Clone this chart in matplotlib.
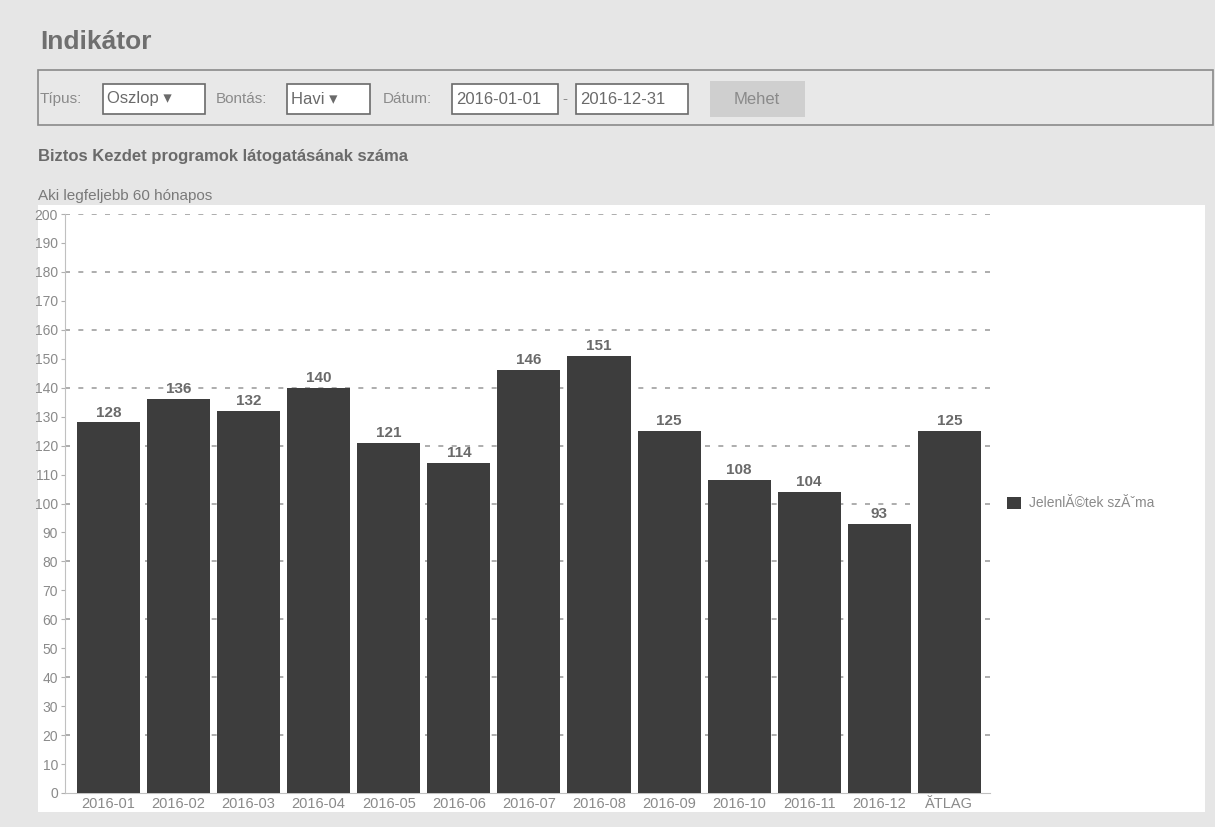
import matplotlib.pyplot as plt
import matplotlib.patches as mpatches

months = ["2016-01", "2016-02", "2016-03", "2016-04", "2016-05", "2016-06",
          "2016-07", "2016-08", "2016-09", "2016-10", "2016-11", "2016-12", "ĂTLAG"]
visits = [128, 136, 132, 140, 121, 114, 146, 151, 125, 108, 104, 93, 125]
yticks = list(range(0, 201, 10))
series_name = "JelenlĂ©tek szĂˇma"

plt.rcParams['font.family'] = ['Liberation Sans', 'DejaVu Sans']

W, H = 1215, 827
fig = plt.figure(figsize=(W / 100, H / 100), dpi=100)
fig.patch.set_facecolor("#e6e6e6")

def px(x, y):
    # pixel coords (top-left origin) -> figure fraction
    return x / W, 1 - y / H

# white chart panel (background axes)
bg = fig.add_axes([38 / W, 1 - 812 / H, (1205 - 38) / W, (812 - 205) / H], zorder=0)
bg.set_facecolor("white")
bg.set_xticks([])
bg.set_yticks([])
for s in bg.spines.values():
    s.set_visible(False)

# header texts
fig.text(*px(40, 42), "Indikátor", fontsize=19, color="#6f6f6f", va="center", weight="bold")
fig.text(*px(38, 156), "Biztos Kezdet programok látogatásának száma", fontsize=12,
         color="#6a6a6a", weight="bold", va="center")
fig.text(*px(38, 196), "Aki legfeljebb 60 hónapos", fontsize=11, color="#7a7a7a", va="center")

# filter bar
fx, fy = px(38, 125)
fig.patches.append(mpatches.Rectangle((fx, fy), (1213 - 38) / W, (125 - 70) / H,
                                      transform=fig.transFigure, facecolor="#e8e8e8",
                                      edgecolor="#8a8a8a", lw=1.2, zorder=1))
items = [("text", 40, "Típus:"), ("box", 103, "Oszlop ▾", 205),
         ("text", 216, "Bontás:"), ("box", 287, "Havi ▾", 370),
         ("text", 383, "Dátum:"), ("box", 452, "2016-01-01", 558),
         ("text", 562, "-"), ("box", 576, "2016-12-31", 688)]
for it in items:
    if it[0] == "text":
        fig.text(*px(it[1], 99), it[2], fontsize=11, color="#8a8a8a", va="center")
    else:
        bx, by = px(it[1], 114)
        fig.patches.append(mpatches.Rectangle((bx, by), (it[3] - it[1]) / W, 30 / H,
                                              transform=fig.transFigure, facecolor="white",
                                              edgecolor="#6a6a6a", lw=1.2, zorder=2))
        fig.text(*px(it[1] + 4, 99), it[2], fontsize=12, color="#6a6a6a", va="center", zorder=3)
bx, by = px(710, 117)
fig.patches.append(mpatches.Rectangle((bx, by), 95 / W, 36 / H, transform=fig.transFigure,
                                      facecolor="#cfcfcf", edgecolor="none", zorder=2))
fig.text(*px(757, 99), "Mehet", fontsize=12, color="#8a8a8a", va="center", ha="center", zorder=3)

# chart
ax = fig.add_axes([65 / W, 1 - 793 / H, (990 - 65) / W, (793 - 214) / H], zorder=2)
ax.set_facecolor("none")
xs = range(len(months))
ax.bar(xs, visits, width=0.9, color="#3d3d3d", zorder=3, label=series_name)
for x, v in zip(xs, visits):
    ax.text(x, v + 1, str(v), ha="center", va="bottom", fontsize=11, color="#6a6a6a",
            weight="bold", zorder=4)
ax.set_ylim(0, 200)
ax.set_xlim(-0.62, len(months) - 0.42)
ax.set_yticks(yticks)
ax.set_yticklabels([str(t) for t in yticks], fontsize=10, color="#8a8a8a")
ax.set_xticks(list(xs))
ax.set_xticklabels(months, fontsize=10.5, color="#8a8a8a")
ax.tick_params(axis="x", length=0, pad=3)
ax.tick_params(axis="y", length=3, color="#b0b0b0", pad=2)
for t in range(20, 201, 20):
    ax.axhline(t, color="#a0a0a0", lw=1.2, ls=(0, (3, 5)), zorder=1)
for s in ["top", "right"]:
    ax.spines[s].set_visible(False)
ax.spines["left"].set_color("#c0c0c0")
ax.spines["bottom"].set_color("#c0c0c0")

ax.legend(loc="center left", bbox_to_anchor=(1.005, 0.5), frameon=False, fontsize=10,
          labelcolor="#8a8a8a", handlelength=1.0, handleheight=1.0, handletextpad=0.6)

fig.savefig("out.png", dpi=100, facecolor=fig.get_facecolor())
